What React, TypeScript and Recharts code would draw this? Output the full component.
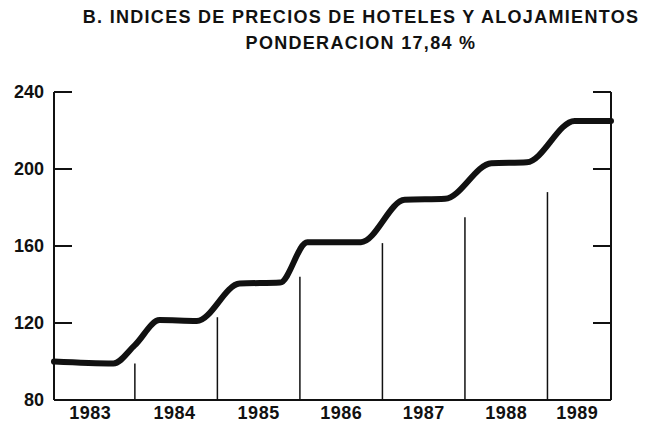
import React from 'react';
import { LineChart, Line, XAxis, YAxis, ReferenceLine } from 'recharts';

const years = [1983.02, 1983.74, 1984.0, 1984.3, 1984.75, 1985.27, 1985.76, 1986.09, 1986.74, 1987.27, 1987.76, 1988.32, 1988.75, 1989.33, 1989.77];
const index = [100, 99, 108.5, 121.5, 121, 140.5, 141, 162, 162, 184, 184.5, 203, 203.5, 225, 225];

const dividerYears = [1984, 1985, 1986, 1987, 1988, 1989];
const dividerTops = [99, 123, 144, 161.5, 175, 188];

const yearTicks = [1983.46, 1984.48, 1985.5, 1986.5, 1987.5, 1988.5, 1989.36];
const yearLabels = ['1983', '1984', '1985', '1986', '1987', '1988', '1989'];
const valueTicks = [80, 120, 160, 200, 240];

const data = years.map((year, i) => ({ year, value: index[i] }));

const ink = '#111';
const font = '"Liberation Sans", Arial, sans-serif';

const tickText = { fill: ink, fontFamily: font, fontWeight: 700, fontSize: 18 };

const YearTick = ({ x, y, index: i }: any) => (
  <text x={x} y={y} dy={17} textAnchor="middle" fontFamily={font} fontWeight={700} fontSize={18} letterSpacing={0.5} fill={ink}>
    {yearLabels[i]}
  </text>
);

// short inward tick marks on both value axes
const TickStubs = (p: any) => {
  const left = Math.min(Number(p.x1), Number(p.x2));
  const right = Math.max(Number(p.x1), Number(p.x2));
  const y = Number(p.y1);
  return <path d={`M${left},${y}h18M${right},${y}h-18`} stroke={ink} strokeWidth={2} fill="none" />;
};

export default function App() {
  return (
    <div style={{ position: 'absolute', left: 0, top: 0, width: 658, height: 423, background: '#fff' }}>
      <div
        style={{
          position: 'absolute',
          left: 82,
          top: 4,
          width: 558,
          textAlign: 'center',
          fontFamily: font,
          fontWeight: 700,
          fontSize: 18,
          letterSpacing: 1.3,
          lineHeight: '26px',
          color: ink,
          whiteSpace: 'nowrap',
        }}
      >
        <div>B. INDICES DE PRECIOS DE HOTELES Y ALOJAMIENTOS</div>
        <div>PONDERACION 17,84 %</div>
      </div>
      <LineChart width={658} height={423} data={data} margin={{ top: 92, right: 0, bottom: 0, left: 0 }}>
        <XAxis
          dataKey="year"
          type="number"
          domain={[1983.02, 1989.77]}
          ticks={yearTicks}
          tick={<YearTick />}
          tickLine={false}
          tickSize={0}
          height={23}
          axisLine={{ stroke: ink, strokeWidth: 2 }}
          interval={0}
        />
        <YAxis
          yAxisId="left"
          domain={[80, 240]}
          ticks={valueTicks}
          width={54}
          tickSize={10}
          tickMargin={0}
          tickLine={false}
          tick={tickText}
          axisLine={{ stroke: ink, strokeWidth: 2 }}
          interval={0}
        />
        <YAxis
          yAxisId="right"
          orientation="right"
          domain={[80, 240]}
          ticks={valueTicks}
          width={47}
          tickSize={10}
          tickMargin={0}
          tickLine={false}
          tick={tickText}
          axisLine={{ stroke: ink, strokeWidth: 2 }}
          interval={0}
        />
        {valueTicks.map((v) => (
          <ReferenceLine key={`t${v}`} yAxisId="left" y={v} shape={TickStubs} />
        ))}
        {dividerYears.map((yr, i) => (
          <ReferenceLine
            key={yr}
            yAxisId="left"
            segment={[{ x: yr, y: 80 }, { x: yr, y: dividerTops[i] }]}
            stroke={ink}
            strokeWidth={1.5}
          />
        ))}
        <Line
          yAxisId="left"
          type="monotone"
          dataKey="value"
          stroke={ink}
          strokeWidth={6}
          strokeLinejoin="round"
          strokeLinecap="round"
          dot={false}
          isAnimationActive={false}
        />
      </LineChart>
    </div>
  );
}
